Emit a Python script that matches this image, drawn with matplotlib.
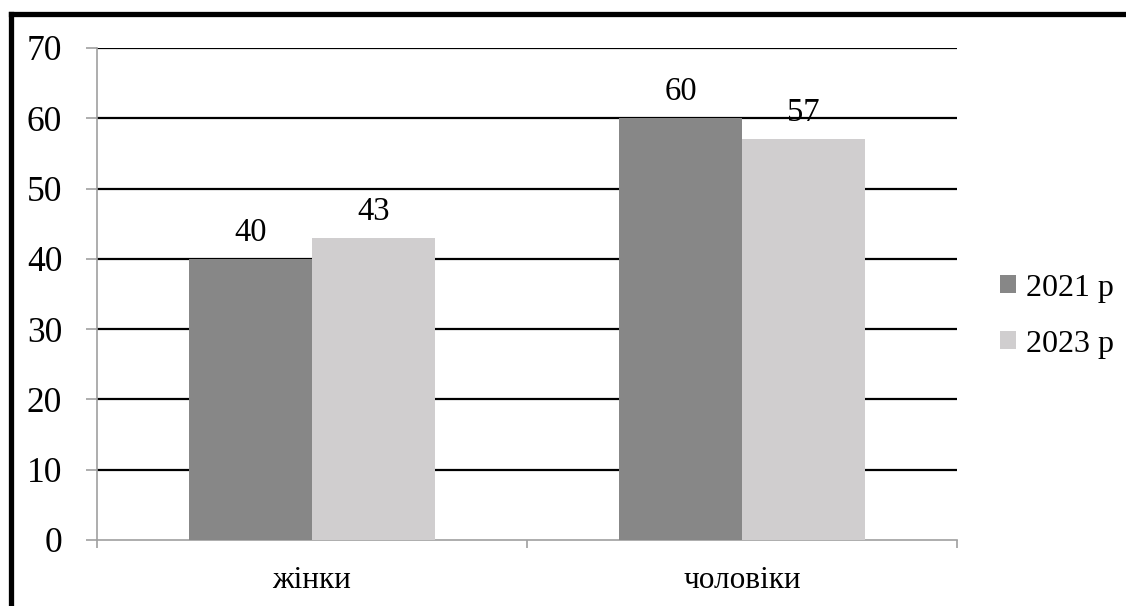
import matplotlib
matplotlib.use("Agg")
import matplotlib.pyplot as plt
from matplotlib.lines import Line2D
import numpy as np

# дані
categories = ["жінки", "чоловіки"]
series_names = ["2021 р", "2023 р"]
values_2021 = [40, 60]
values_2023 = [43, 57]
yticks = [0, 10, 20, 30, 40, 50, 60, 70]

colors = ["#878787", "#d0cecf"]
plt.rcParams["font.family"] = ["Liberation Serif", "DejaVu Serif"]

fig = plt.figure(figsize=(11.26, 6.06), dpi=100)
ax = fig.add_axes([97 / 1126, 1 - 540 / 606, 860 / 1126, 492 / 606])

x = np.arange(len(categories))
w = 0.286
for i, (vals, name) in enumerate(zip([values_2021, values_2023], series_names)):
    pos = x + (i - 0.5) * w
    bars = ax.bar(pos, vals, width=w, color=colors[i], label=name, zorder=3)
    for b, v in zip(bars, vals):
        ax.annotate(str(v), (b.get_x() + b.get_width() / 2, v), xytext=(0, 8),
                    textcoords="offset points", ha="center", va="bottom",
                    fontsize=23.5, zorder=4)

ax.set_xlim(-0.5, 1.5)
ax.set_ylim(0, 70)
ax.set_yticks(yticks)
ax.set_yticklabels([str(t) for t in yticks], fontsize=25.5)
for t in yticks[1:]:
    ax.axhline(t, color="black", lw=1.6, zorder=2)

ax.set_xticks([-0.5, 0.5, 1.5])
ax.set_xticklabels([])
ax.set_xticks(x, minor=True)
ax.set_xticklabels(categories, minor=True, fontsize=22.5)
ax.tick_params(axis="x", which="minor", length=0, pad=19)
ax.tick_params(axis="x", which="major", length=6, color="#a0a0a0", width=1.2)
ax.tick_params(axis="y", length=8, color="#a0a0a0", width=1.2, pad=17)

for s in ["top", "right"]:
    ax.spines[s].set_visible(False)
for s in ["left", "bottom"]:
    ax.spines[s].set_color("#a0a0a0")
    ax.spines[s].set_linewidth(1.2)

leg = ax.legend(loc="center left", bbox_to_anchor=(1.05, 0.455), frameon=False,
                fontsize=23, handlelength=0.5, handleheight=0.5,
                handletextpad=0.3, labelspacing=0.85, borderpad=0, borderaxespad=0)

# рамка навколо діаграми
fig.add_artist(Line2D([11 / 1126, 11 / 1126], [0, 1 - 13.5 / 606], color="black",
                      lw=3.8, transform=fig.transFigure, solid_capstyle="projecting"))
fig.add_artist(Line2D([11 / 1126, 1], [1 - 13.5 / 606, 1 - 13.5 / 606], color="black",
                      lw=3.8, transform=fig.transFigure, solid_capstyle="projecting"))

fig.savefig("out.png", dpi=100, facecolor="white")
